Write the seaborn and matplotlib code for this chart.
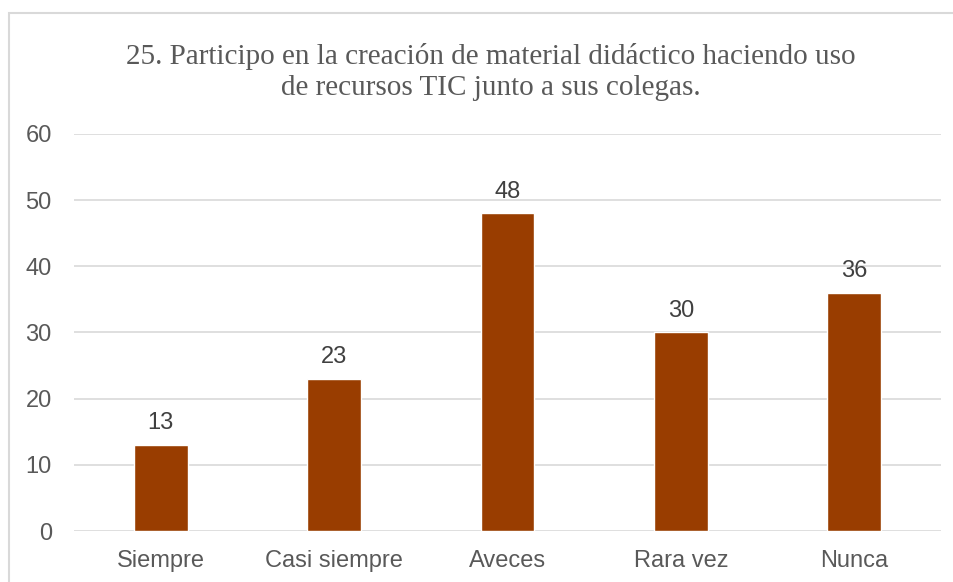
import matplotlib
matplotlib.use("Agg")
import matplotlib.pyplot as plt
import seaborn as sns
import pandas as pd
from matplotlib.patches import Rectangle

# data
categorias = ["Siempre", "Casi siempre", "Aveces", "Rara vez", "Nunca"]
valores = [13, 23, 48, 30, 36]
titulo = "25. Participo en la creación de material didáctico haciendo uso\nde recursos TIC junto a sus colegas."

df = pd.DataFrame({"categoria": categorias, "valor": valores})

sns.set_theme(style="white")
plt.rcParams["font.family"] = ["Liberation Sans", "DejaVu Sans"]

fig = plt.figure(figsize=(9.54, 5.82), dpi=100)
ax = fig.add_axes([0.0776, 0.0876, 0.9088, 0.6822])

# chart border like the Excel frame
fig.patches.append(Rectangle((9 / 954, -0.01), 1.0, 1 - 13 / 582 + 0.01,
                             transform=fig.transFigure, fill=False,
                             edgecolor="#d9d9d9", linewidth=1.5))

sns.barplot(data=df, x="categoria", y="valor", color="#993d00",
            saturation=1, width=0.31, ax=ax, zorder=3)

for i, v in enumerate(valores):
    ax.text(i, v + 1.6, str(v), ha="center", va="bottom", fontsize=17, color="#404040")

ax.set_ylim(0, 60)
ax.set_yticks(range(0, 61, 10))
ax.set_xlim(-0.5, 4.5)
ax.yaxis.grid(True, color="#d9d9d9", linewidth=1.2, zorder=0)
for s in ax.spines.values():
    s.set_visible(False)
ax.set_xlabel("")
ax.set_ylabel("")
ax.tick_params(axis="both", length=0, labelsize=17, labelcolor="#595959")
ax.tick_params(axis="y", pad=16)
ax.tick_params(axis="x", pad=14)

fig.text(0.514, 0.876, titulo, ha="center", va="center", fontsize=21,
         color="#595959", family=["Liberation Serif", "DejaVu Serif"],
         linespacing=1.25)

fig.savefig("out.png", dpi=100)
